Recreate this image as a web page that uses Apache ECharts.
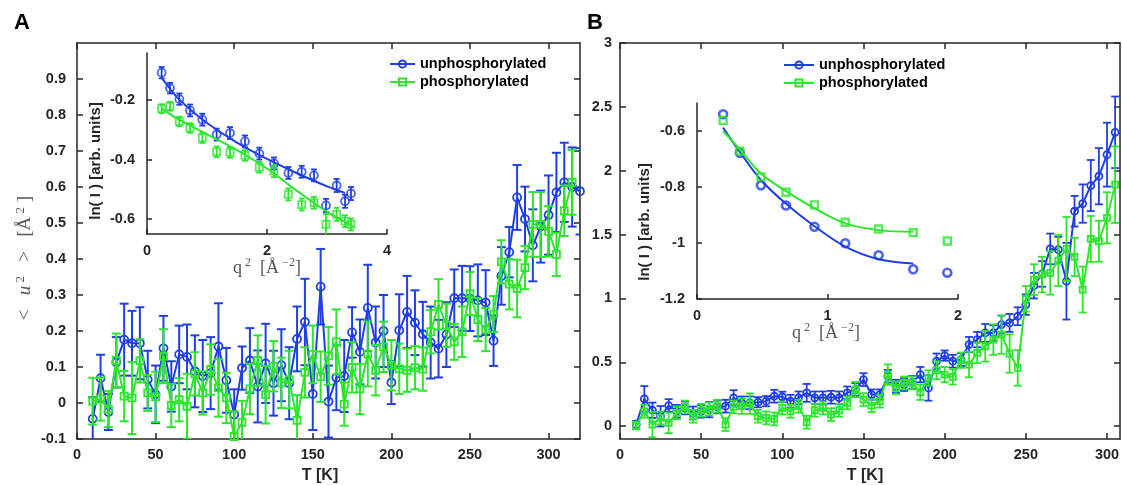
<!DOCTYPE html>
<html><head><meta charset="utf-8">
<script src="https://cdn.jsdelivr.net/npm/echarts@6/dist/echarts.min.js"></script>
<style>html,body{margin:0;padding:0;background:#fff}#c{width:1122px;height:485px}</style>
</head><body><div id="c"></div>
<script>
// ---------- Panel A : <u^2> vs T ----------
const tA = [10,15,20,25,30,35,40,45,50,55,60,65,70,75,80,85,90,95,100,105,110,115,120,125,130,135,140,145,150,155,160,165,170,175,180,185,190,195,200,205,210,215,220,225,230,235,240,245,250,255,260,265,270,275,280,285,290,295,300,305,310,315,320];
const unphosA = [-0.044,0.069,-0.025,0.113,0.176,0.166,0.166,0.065,0.024,0.152,
 0.046,0.135,0.128,0.088,0.075,0.083,0.157,0.063,-0.032,0.097,
 0.118,0.046,0.110,0.055,0.105,0.055,0.178,0.225,0.025,0.323,
 0.004,0.070,0.075,0.196,0.142,0.264,0.168,0.200,0.057,0.202,
 0.253,0.223,0.191,0.168,0.151,0.190,0.291,0.291,0.290,0.285,
 0.279,0.173,0.353,0.419,0.571,0.511,0.438,0.490,0.522,0.585,
 0.613,0.600,0.588];
const unphosAErr = [0.06,0.065,0.05,0.07,0.10,0.09,0.10,0.08,0.08,0.09,
 0.07,0.08,0.09,0.10,0.10,0.10,0.12,0.09,0.07,0.06,
 0.09,0.10,0.11,0.09,0.10,0.10,0.09,0.12,0.10,0.105,
 0.10,0.09,0.10,0.07,0.09,0.12,0.10,0.10,0.06,0.10,
 0.10,0.09,0.09,0.10,0.08,0.09,0.08,0.09,0.09,0.10,
 0.09,0.07,0.08,0.07,0.09,0.09,0.10,0.10,0.11,0.11,
 0.11,0.11,0.12];
const phosA = [0.005,0.011,-0.017,0.118,0.019,0.014,0.117,0.028,0.017,0.130,
 -0.007,0.009,-0.009,0.081,0.028,0.093,0.042,0.014,-0.093,-0.054,
 0.039,0.118,0.023,0.102,0.056,0.065,-0.048,0.085,0.135,0.073,
 0.131,0.170,-0.003,0.099,0.039,0.136,0.091,0.156,0.105,0.095,
 0.091,0.098,0.094,0.198,0.274,0.216,0.170,0.198,0.304,0.232,
 0.204,0.247,0.392,0.330,0.318,0.376,0.496,0.496,0.477,0.413,
 0.534,0.613];
const phosAErr = [0.065,0.06,0.05,0.075,0.07,0.10,0.06,0.05,0.07,0.075,
 0.06,0.06,0.09,0.06,0.06,0.07,0.08,0.07,0.07,0.06,
 0.07,0.07,0.08,0.07,0.07,0.08,0.07,0.07,0.08,0.07,
 0.08,0.09,0.06,0.07,0.07,0.09,0.07,0.07,0.07,0.07,
 0.06,0.06,0.06,0.06,0.07,0.06,0.05,0.07,0.06,0.06,
 0.06,0.05,0.06,0.07,0.08,0.06,0.09,0.09,0.07,0.06,
 0.07,0.09];

// ---------- Panel B : <u^2> vs T ----------
const tB = [10,15,20,25,30,35,40,45,50,55,60,65,70,75,80,85,90,95,100,105,110,115,120,125,130,135,140,145,150,155,160,165,170,175,180,185,190,195,200,205,210,215,220,225,230,235,240,245,250,255,260,265,270,275,280,285,290,295,300,305];
const unphosB = [0.013,0.214,0.125,0.078,0.162,0.117,0.143,0.104,0.117,0.130,
 0.151,0.157,0.222,0.183,0.183,0.188,0.196,0.235,0.230,0.196,
 0.222,0.261,0.222,0.222,0.227,0.222,0.261,0.287,0.365,0.248,
 0.248,0.391,0.313,0.326,0.344,0.404,0.300,0.509,0.553,0.509,
 0.522,0.639,0.678,0.730,0.730,0.796,0.809,0.861,0.952,1.100,
 1.192,1.388,1.383,1.135,1.683,1.743,1.884,1.957,2.126,2.301];
const unphosBErr = [0.03,0.10,0.06,0.08,0.05,0.05,0.05,0.05,0.05,0.06,
 0.05,0.05,0.06,0.05,0.05,0.04,0.04,0.05,0.04,0.05,
 0.05,0.07,0.05,0.05,0.05,0.05,0.05,0.05,0.05,0.04,
 0.04,0.05,0.05,0.05,0.05,0.06,0.10,0.06,0.04,0.05,
 0.05,0.06,0.06,0.07,0.06,0.07,0.07,0.07,0.08,0.10,
 0.10,0.12,0.10,0.30,0.12,0.15,0.20,0.22,0.25,0.28];
const phosB = [0.005,0.117,0.013,0.065,0.026,0.104,0.151,0.078,0.125,0.136,
 0.157,0.013,0.151,0.157,0.177,0.078,0.065,0.057,0.143,0.117,
 0.157,0.031,0.125,0.143,0.091,0.125,0.183,0.287,0.209,0.162,
 0.196,0.404,0.300,0.339,0.339,0.266,0.378,0.438,0.404,0.386,
 0.517,0.483,0.574,0.626,0.678,0.717,0.569,0.457,0.997,1.148,
 1.187,1.200,1.297,1.388,1.325,1.070,1.466,1.448,1.631,1.891];
const phosBErr = [0.03,0.05,0.10,0.05,0.08,0.05,0.05,0.05,0.05,0.05,
 0.05,0.05,0.05,0.06,0.08,0.05,0.05,0.05,0.05,0.05,
 0.05,0.05,0.05,0.05,0.05,0.05,0.05,0.06,0.05,0.05,
 0.05,0.08,0.05,0.05,0.05,0.06,0.06,0.07,0.06,0.06,
 0.06,0.10,0.08,0.12,0.12,0.15,0.15,0.14,0.10,0.12,
 0.14,0.17,0.20,0.25,0.15,0.18,0.18,0.16,0.20,0.30];

// ---------- Inset A : ln(I) vs q^2 ----------
const qInA = [0.244,0.383,0.539,0.717,0.922,1.161,1.383,1.633,1.872,2.117,2.356,2.578,2.783,2.983,3.161,3.300,3.400];
const lnInA_unphos = [-0.108,-0.160,-0.197,-0.235,-0.266,-0.316,-0.311,-0.339,-0.380,-0.413,-0.445,-0.441,-0.453,-0.554,-0.487,-0.540,-0.514];
const lnInA_unphosErr = [0.019,0.018,0.019,0.02,0.02,0.02,0.02,0.02,0.02,0.02,0.02,0.02,0.02,0.022,0.022,0.022,0.022];
const lnInA_phos = [-0.229,-0.221,-0.272,-0.294,-0.327,-0.374,-0.376,-0.386,-0.426,-0.439,-0.517,-0.551,-0.545,-0.618,-0.584,-0.607,-0.618];
const lnInA_phosErr = [0.015,0.015,0.016,0.016,0.017,0.018,0.018,0.018,0.018,0.02,0.02,0.02,0.02,0.035,0.022,0.02,0.02];
const qFitA_unphos = [0.24,0.5,0.75,1.0,1.5,2.0,2.5,3.0,3.3];
const lnFitA_unphos = [-0.125,-0.19,-0.237,-0.277,-0.343,-0.398,-0.446,-0.49,-0.512];
const qFitA_phos = [0.24,0.5,1.0,1.5,2.0,2.5,3.0,3.44];
const lnFitA_phos = [-0.228,-0.262,-0.315,-0.368,-0.43,-0.505,-0.575,-0.625];

// ---------- Inset B : ln(I) vs q^2 ----------
const qInB = [0.200,0.328,0.490,0.682,0.900,1.136,1.392,1.657,1.918];
const lnInB_unphos = [-0.540,-0.678,-0.794,-0.866,-0.942,-1.001,-1.044,-1.094,-1.106];
const lnInB_phos = [-0.562,-0.672,-0.764,-0.819,-0.864,-0.926,-0.950,-0.963,-0.993];
const qFitB = [0.200,0.328,0.490,0.682,0.900,1.136,1.392,1.657];
const lnFitB_unphos = [-0.588,-0.675,-0.775,-0.860,-0.940,-1.013,-1.058,-1.073];
const lnFitB_phos = [-0.600,-0.666,-0.752,-0.815,-0.876,-0.930,-0.954,-0.960];

// ---------- tick labels ----------
const ticksTA = [0,50,100,150,200,250,300];
const ticksUA = [-0.1,0,0.1,0.2,0.3,0.4,0.5,0.6,0.7,0.8,0.9];
const ticksTB = [0,50,100,150,200,250,300];
const ticksUB = [0,0.5,1,1.5,2,2.5,3];
const ticksQA = [0,2,4];
const ticksLnA = [-0.6,-0.4,-0.2];
const ticksQB = [0,1,2];
const ticksLnB = [-1.2,-1,-0.8,-0.6];

const BLUE = '#1f3fe6', GREEN = '#2de52d', AX = '#262626';
const FONT = '"Liberation Sans", Arial, Helvetica, sans-serif';
const SERIF = '"Liberation Serif", "DejaVu Serif", serif';
const zip = (xs, ys) => ys.map((v, i) => [xs[i], v]);
const fmt = v => String(+(+v).toFixed(3));

function axis(gridIndex, position, min, max, ticks, o) {
  o = o || {};
  return {
    type: 'value', gridIndex, position, min, max,
    axisLine: {show: true, onZero: false, lineStyle: {color: AX, width: o.lw || 1.5}},
    axisTick: {show: true, inside: true, length: o.tl || 6, customValues: ticks, lineStyle: {color: AX, width: o.lw || 1.5}},
    axisLabel: {show: o.label !== false, customValues: ticks, margin: o.margin || 8, color: AX,
      fontFamily: FONT, fontWeight: 'bold', fontSize: 14.5, formatter: fmt},
    splitLine: {show: false}, minorTick: {show: false}
  };
}

function lineSeries(name, xi, yi, data, color, symbol, size, z, bw) {
  return {type: 'line', name, xAxisIndex: xi, yAxisIndex: yi, data, symbol, symbolSize: size,
    showSymbol: true, showAllSymbol: true, animation: false, z,
    itemStyle: {color: 'rgba(255,255,255,0)', borderColor: color, borderWidth: bw || 1.8},
    lineStyle: {color, width: 2}, emphasis: {disabled: true}};
}
function scatterSeries(name, xi, yi, data, color, symbol, size, z, bw) {
  return {type: 'scatter', name, xAxisIndex: xi, yAxisIndex: yi, data, symbol, symbolSize: size,
    animation: false, z, itemStyle: {color: 'rgba(255,255,255,0)', borderColor: color, borderWidth: bw || 1.8},
    emphasis: {disabled: true}};
}
function fitSeries(name, xi, yi, data, color, z) {
  return {type: 'line', name, xAxisIndex: xi, yAxisIndex: yi, data, symbol: 'none', smooth: 0.35,
    animation: false, z, lineStyle: {color, width: 2}, emphasis: {disabled: true}};
}
function errSeries(name, xi, yi, xs, vals, errs, color, cap, lw, z) {
  return {type: 'custom', name, xAxisIndex: xi, yAxisIndex: yi, clip: true, animation: false, z,
    data: vals.map((v, i) => [xs[i], v - errs[i], v + errs[i]]),
    encode: {x: 0, y: [1, 2]},
    renderItem: (params, api) => {
      const x = api.value(0);
      const p1 = api.coord([x, api.value(1)]), p2 = api.coord([x, api.value(2)]);
      const style = {stroke: color, lineWidth: lw};
      return {type: 'group', children: [
        {type: 'line', shape: {x1: p1[0], y1: p1[1], x2: p2[0], y2: p2[1]}, style},
        {type: 'line', shape: {x1: p1[0] - cap, y1: p1[1], x2: p1[0] + cap, y2: p1[1]}, style},
        {type: 'line', shape: {x1: p2[0] - cap, y1: p2[1], x2: p2[0] + cap, y2: p2[1]}, style}
      ]};
    }};
}

const legendText = {fontFamily: FONT, fontWeight: 'bold', fontSize: 14.5, color: '#000', lineHeight: 16};
const serifRich = {
  n: {fontFamily: SERIF, fontSize: 18, fill: '#555', color: '#555', lineHeight: 22},
  i: {fontFamily: SERIF, fontSize: 18, fontStyle: 'italic', fill: '#555', color: '#555', lineHeight: 22},
  s: {fontFamily: SERIF, fontSize: 12, fill: '#555', color: '#555', lineHeight: 12, verticalAlign: 'top'}
};
const serifRichBig = {
  n: {fontFamily: SERIF, fontSize: 19, fill: '#555', color: '#555', lineHeight: 22},
  i: {fontFamily: SERIF, fontSize: 19, fontStyle: 'italic', fill: '#555', color: '#555', lineHeight: 22},
  s: {fontFamily: SERIF, fontSize: 13, fill: '#555', color: '#555', lineHeight: 12, verticalAlign: 'top'}
};

const option = {
  backgroundColor: '#fff',
  animation: false,
  grid: [
    {left: 77, top: 43, width: 503, height: 396, outerBoundsMode: 'none'},
    {left: 620, top: 43, width: 500, height: 396, outerBoundsMode: 'none'},
    {left: 147, top: 53, width: 240, height: 181, outerBoundsMode: 'none'},
    {left: 697, top: 103, width: 261, height: 196, outerBoundsMode: 'none'}
  ],
  xAxis: [
    axis(0, 'bottom', 0, 320, ticksTA, {margin: 8}),
    axis(0, 'top', 0, 320, ticksTA, {label: false}),
    axis(1, 'bottom', 0, 308, ticksTB, {margin: 8}),
    axis(1, 'top', 0, 308, ticksTB, {label: false}),
    axis(2, 'bottom', 0, 4, ticksQA, {margin: 9, tl: 5}),
    axis(3, 'bottom', 0, 2, ticksQB, {margin: 9, tl: 5})
  ],
  yAxis: [
    axis(0, 'left', -0.1, 1.0, ticksUA, {margin: 11}),
    axis(0, 'right', -0.1, 1.0, ticksUA, {label: false}),
    axis(1, 'left', -0.1, 3.0, ticksUB, {margin: 8}),
    axis(1, 'right', -0.1, 3.0, ticksUB, {label: false}),
    axis(2, 'left', -0.65, -0.042, ticksLnA, {margin: 12, tl: 5}),
    axis(3, 'left', -1.2, -0.5, ticksLnB, {margin: 12, tl: 5})
  ],
  legend: [
    {left: 389, top: 56, orient: 'vertical', itemWidth: 25, itemHeight: 9, itemGap: 2, padding: 0,
      selectedMode: false, data: ['unphosphorylated', 'phosphorylated'], textStyle: legendText},
    {left: 783, top: 57, orient: 'vertical', itemWidth: 30, itemHeight: 9, itemGap: 2, padding: 0,
      selectedMode: false, data: ['unphosphorylated', 'phosphorylated'], textStyle: legendText}
  ],
  series: [
    // panel A
    errSeries('errA_u', 0, 0, tA, unphosA, unphosAErr, BLUE, 4.5, 2, 2),
    lineSeries('unphosphorylated', 0, 0, zip(tA, unphosA), BLUE, 'circle', 8, 3),
    errSeries('errA_p', 0, 0, tA, phosA, phosAErr, GREEN, 4.5, 2, 4),
    lineSeries('phosphorylated', 0, 0, zip(tA, phosA), GREEN, 'rect', 7, 5),
    // panel B
    errSeries('errB_u', 2, 2, tB, unphosB, unphosBErr, BLUE, 4, 1.8, 2),
    lineSeries('unphosphorylated', 2, 2, zip(tB, unphosB), BLUE, 'circle', 7, 3),
    errSeries('errB_p', 2, 2, tB, phosB, phosBErr, GREEN, 4, 1.8, 4),
    lineSeries('phosphorylated', 2, 2, zip(tB, phosB), GREEN, 'rect', 6, 5),
    // inset A
    errSeries('errInA_u', 4, 4, qInA, lnInA_unphos, lnInA_unphosErr, BLUE, 3, 1.8, 6),
    scatterSeries('insetA_u', 4, 4, zip(qInA, lnInA_unphos), BLUE, 'circle', 8, 7),
    fitSeries('fitA_u', 4, 4, zip(qFitA_unphos, lnFitA_unphos), BLUE, 7),
    errSeries('errInA_p', 4, 4, qInA, lnInA_phos, lnInA_phosErr, GREEN, 3, 1.8, 8),
    scatterSeries('insetA_p', 4, 4, zip(qInA, lnInA_phos), GREEN, 'rect', 7, 9),
    fitSeries('fitA_p', 4, 4, zip(qFitA_phos, lnFitA_phos), GREEN, 9),
    // inset B
    scatterSeries('insetB_u', 5, 5, zip(qInB, lnInB_unphos), BLUE, 'circle', 8, 7, 2.6),
    fitSeries('fitB_u', 5, 5, zip(qFitB, lnFitB_unphos), BLUE, 7),
    scatterSeries('insetB_p', 5, 5, zip(qInB, lnInB_phos), GREEN, 'rect', 7, 9, 2.4),
    fitSeries('fitB_p', 5, 5, zip(qFitB, lnFitB_phos), GREEN, 9)
  ],
  graphic: [
    {type: 'text', left: 14, top: 12, style: {text: 'A', fontFamily: FONT, fontWeight: 'bold', fontSize: 22, fill: '#000'}},
    {type: 'text', left: 587, top: 12, style: {text: 'B', fontFamily: FONT, fontWeight: 'bold', fontSize: 22, fill: '#000'}},
    {type: 'text', x: 320, y: 476, style: {text: 'T [K]', fontFamily: FONT, fontWeight: 'bold', fontSize: 16, fill: AX, align: 'center', verticalAlign: 'middle'}},
    {type: 'text', x: 865, y: 476, style: {text: 'T [K]', fontFamily: FONT, fontWeight: 'bold', fontSize: 16, fill: AX, align: 'center', verticalAlign: 'middle'}},
    {type: 'text', x: 25, y: 258, rotation: Math.PI / 2,
      style: {text: '{n|<   }{i|u}{s| 2}{n|   >   [Å}{s| 2}{n| ]}', rich: serifRichBig, align: 'center', verticalAlign: 'middle'}},
    {type: 'text', x: 96, y: 161, rotation: Math.PI / 2,
      style: {text: 'ln( I ) [arb. units]', fontFamily: FONT, fontWeight: 'bold', fontSize: 15, fill: AX, align: 'center', verticalAlign: 'middle'}},
    {type: 'text', x: 645, y: 222, rotation: Math.PI / 2,
      style: {text: 'ln( I ) [arb. units]', fontFamily: FONT, fontWeight: 'bold', fontSize: 15, fill: AX, align: 'center', verticalAlign: 'middle'}},
    {type: 'text', x: 267, y: 268,
      style: {text: '{n|q}{s| 2}{n|  [Å}{s| −2}{n|]}', rich: serifRich, align: 'center', verticalAlign: 'middle'}},
    {type: 'text', x: 826, y: 333,
      style: {text: '{n|q}{s| 2}{n|  [Å}{s| −2}{n|]}', rich: serifRich, align: 'center', verticalAlign: 'middle'}}
  ]
};

const chart = echarts.init(document.getElementById('c'), null, {renderer: 'canvas'});
chart.setOption(option);
</script></body></html>
